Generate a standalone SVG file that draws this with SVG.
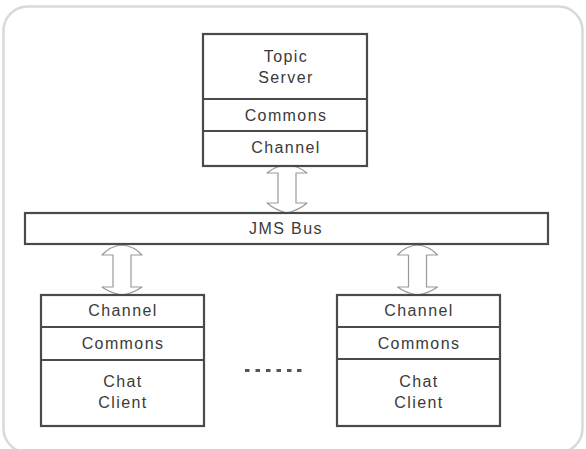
<svg xmlns="http://www.w3.org/2000/svg" width="586" height="449" viewBox="0 0 586 449">
<defs>
<style>
.frame{fill:#fff;stroke:#d9d9d9;stroke-width:2.5}
.box{fill:#fff;stroke:#4a4a4a;stroke-width:2.2}
.div{stroke:#4a4a4a;stroke-width:2.2;fill:none}
.arrow{fill:#fff;stroke:#9a9a9a;stroke-width:1.2;stroke-linejoin:round}
.t{font-family:"Liberation Sans",Arial,sans-serif;font-size:16px;letter-spacing:1.4px;fill:#3a3a3a;text-anchor:middle}
.dot{fill:#555}
</style>
</defs>
<rect class="frame" x="3.5" y="6.5" width="579" height="446" rx="24" ry="24"/>

<g id="connectors">
<path class="arrow" d="M287,165 Q275,166 267,173 L278,173 L278,203 L267,203 Q275,210 287,213 Q299,210 307,203 L296,203 L296,173 L307,173 Q299,166 287,165 Z"/>
<path class="arrow" d="M122,245 Q110,246 102,255 L113,255 L113,287 L102,287 Q110,293 122,295 Q134,293 142,287 L131,287 L131,255 L142,255 Q134,246 122,245 Z"/>
<path class="arrow" d="M417.5,245 Q405.5,246 397.5,255 L408.5,255 L408.5,287 L397.5,287 Q405.5,293 417.5,295 Q429.5,293 437.5,287 L426.5,287 L426.5,255 L437.5,255 Q429.5,246 417.5,245 Z"/>
</g>

<g id="topic-server">
<rect class="box" x="203" y="34" width="164" height="132"/>
<line class="div" x1="203" y1="99" x2="367" y2="99"/>
<line class="div" x1="203" y1="131" x2="367" y2="131"/>
<text class="t" x="286" y="62">Topic</text>
<text class="t" x="286" y="83">Server</text>
<text class="t" x="286" y="121">Commons</text>
<text class="t" x="286" y="153">Channel</text>
</g>

<g id="jms-bus">
<rect class="box" x="25" y="213" width="523" height="31"/>
<text class="t" x="286" y="234">JMS Bus</text>
</g>

<g id="chat-client-left">
<rect class="box" x="41" y="295" width="163" height="131"/>
<line class="div" x1="41" y1="327" x2="204" y2="327"/>
<line class="div" x1="41" y1="360" x2="204" y2="360"/>
<text class="t" x="123" y="316">Channel</text>
<text class="t" x="123" y="349">Commons</text>
<text class="t" x="123" y="387">Chat</text>
<text class="t" x="123" y="408">Client</text>
</g>

<g id="chat-client-right">
<rect class="box" x="337" y="295" width="163" height="131"/>
<line class="div" x1="337" y1="327" x2="500" y2="327"/>
<line class="div" x1="337" y1="359" x2="500" y2="359"/>
<text class="t" x="419" y="316">Channel</text>
<text class="t" x="419" y="349">Commons</text>
<text class="t" x="419" y="387">Chat</text>
<text class="t" x="419" y="408">Client</text>
</g>

<g id="ellipsis">
<rect class="dot" x="245" y="369" width="4.5" height="3"/>
<rect class="dot" x="255.5" y="369" width="4.5" height="3"/>
<rect class="dot" x="266" y="369" width="4.5" height="3"/>
<rect class="dot" x="276.5" y="369" width="4.5" height="3"/>
<rect class="dot" x="287" y="369" width="4.5" height="3"/>
<rect class="dot" x="297" y="369" width="4.5" height="3"/>
</g>
</svg>
